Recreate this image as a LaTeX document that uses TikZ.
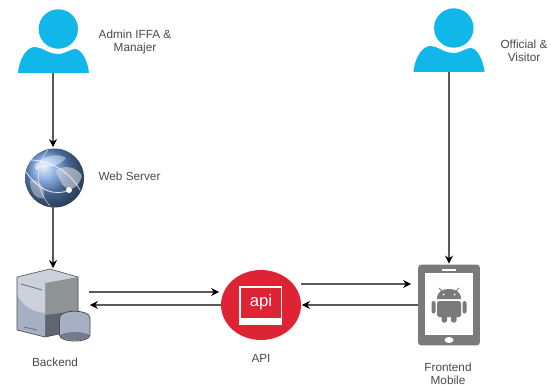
\documentclass[tikz,border=0pt]{standalone}
\usepackage{fontspec}
\setmainfont{Liberation Sans}
\usetikzlibrary{shapes.geometric,arrows.meta}
\def\px{0.569pt}
\definecolor{personblue}{HTML}{10B7E8}
\definecolor{apired}{HTML}{DD2334}
\definecolor{tabletgray}{HTML}{7A7A7A}
\definecolor{labelgray}{HTML}{4A4A4A}
\definecolor{globeblue}{HTML}{6A98DA}
\definecolor{cubelight}{HTML}{CDD1DC}
\definecolor{cubelow}{HTML}{A6B0C4}
\definecolor{cubeside}{HTML}{8E9396}
\definecolor{cubedark}{HTML}{5E6771}
\tikzset{
    hiddenbox/.style={inner sep=0pt, outer sep=0pt},
    conn/.style={draw=black!65, line width=0.7pt, -{Stealth[length=4.6pt,width=4.6pt,black]}, shorten >=0.5pt},
    lbl/.style={inner sep=0pt, align=center, text=labelgray, font=\fontsize{6.7}{7.6}\selectfont}
}
\newcommand{\personicon}{
    \fill[personblue] (58.3,29) circle (19.7);
    \fill[personblue] (18,73) .. controls (19,60) and (26,47) .. (35,47)
        .. controls (42,47) and (48,54) .. (58,54)
        .. controls (66,54) and (70,49) .. (75,49)
        .. controls (82,49) and (88,62) .. (89,73) -- cycle;
}
\begin{document}
\begin{tikzpicture}[x=0.02cm, y=-0.02cm]
    \useasboundingbox (0,0) rectangle (551,385);
    \fill[white] (0,0) rectangle (551,385);

    \node[hiddenbox, minimum width=71*\px, minimum height=64*\px] (admin) at (53,41) {};
    \node[hiddenbox, minimum width=71*\px, minimum height=64*\px] (official) at (449,40) {};
    \node[hiddenbox, circle, minimum width=58*\px] (webserver) at (53,177) {};
    \node[hiddenbox, minimum width=72*\px, minimum height=72*\px] (backend) at (53,305) {};
    \node[hiddenbox, ellipse, fill=apired, minimum width=80*\px, minimum height=70*\px] (api) at (261,305) {};
    \node[hiddenbox, rounded corners=2pt, fill=tabletgray, minimum width=62*\px, minimum height=81*\px] (frontend) at (449,305) {};

    \personicon
    \begin{scope}[shift={(395.5,-1)}]
        \personicon
    \end{scope}

    \begin{scope}
        \clip (54.5,178) circle (29.5);
        \shade[ball color=globeblue] (54.5,178) circle (29.5);
        \fill[white, opacity=0.4] (34,166) .. controls (42,156) and (58,152) .. (66,158) .. controls (60,166) and (46,170) .. (34,166) -- cycle;
        \fill[black!10, opacity=0.55] (56,170) .. controls (66,164) and (78,168) .. (82,176) .. controls (78,190) and (68,192) .. (62,184) .. controls (60,178) and (56,176) .. (56,170) -- cycle;
        \fill[black!15, opacity=0.45] (30,180) .. controls (38,178) and (46,186) .. (44,198) .. controls (36,200) and (30,192) .. (30,180) -- cycle;
        \draw[white, opacity=0.8, line width=0.5pt] (26,172) .. controls (40,192) and (56,196) .. (70,190);
        \draw[white, opacity=0.7, line width=0.5pt] (30,160) .. controls (50,160) and (70,172) .. (80,190);
        \draw[white, opacity=0.6, line width=0.4pt] (48,150) .. controls (34,166) and (36,190) .. (50,206);
        \fill[white] (69,190) circle (3);
        \fill[white, opacity=0.8] (37,168) circle (1.8);
    \end{scope}

    \fill[cubelight] (50,269) -- (78,277) -- (45,283) -- (17,277) -- cycle;
    \fill[cubeside] (45,283) -- (78,277) -- (78,330) -- (45,337) -- cycle;
    \fill[cubedark] (45,315) -- (78,311) -- (78,330) -- (45,337) -- cycle;
    \fill[cubelow] (17,277) -- (45,283) -- (45,337) -- (17,330) -- cycle;
    \fill[cubelight] (17,277) -- (45,283) -- (45,313) .. controls (32,312) and (22,305) .. (17,294) -- cycle;
    \draw[black!70, line width=0.35pt, line join=round] (50,269) -- (78,277) -- (78,330) -- (45,337) -- (17,330) -- (17,277) -- cycle;
    \draw[black!55, line width=0.5pt] (21,284) -- (42,290);
    \draw[black!55, line width=0.5pt] (24,327) -- (37,330);
    \fill[cubelow] (59.5,318) .. controls (59.5,309) and (90,309) .. (90,318) -- (90,335) .. controls (90,343) and (59.5,343) .. (59.5,335) -- cycle;
    \fill[black!30!cubelow] (60,335) .. controls (68,331) and (82,331) .. (89.5,335) .. controls (88,342) and (62,342) .. (60,335) -- cycle;
    \draw[black!70, line width=0.45pt] (59.5,318) .. controls (59.5,309) and (90,309) .. (90,318) -- (90,335) .. controls (90,343) and (59.5,343) .. (59.5,335) -- cycle;

    \draw[white, line width=0.8pt] (240,287) rectangle (281.5,324);
    \fill[white] (240,318) rectangle (281.5,324);
    \node[inner sep=0pt, text=white, font=\fontsize{9.5}{10}\selectfont] (apitext) at (261,302) {api};

    \fill[white] (425,273) rectangle (473,335);
    \fill[white] (442,268.5) rectangle (456,271);
    \fill[white] (449,340) ellipse (4.5 and 3);
    \fill[tabletgray] (437,299) .. controls (437,292) and (442,289) .. (449,289) .. controls (456,289) and (461,292) .. (461,299) -- cycle;
    \draw[tabletgray, line width=0.5pt] (442,291) -- (439,288) (456,291) -- (459,288);
    \fill[white] (443.5,294.5) circle (1) (454.5,294.5) circle (1);
    \fill[tabletgray, rounded corners=1pt] (437,301) rectangle (461,317);
    \fill[tabletgray, rounded corners=1.2pt] (441.5,312) rectangle (447,322.5);
    \fill[tabletgray, rounded corners=1.2pt] (451,312) rectangle (456.5,322.5);
    \fill[tabletgray, rounded corners=1.2pt] (431.5,301) rectangle (435.5,313.5);
    \fill[tabletgray, rounded corners=1.2pt] (462.5,301) rectangle (466.5,313.5);

    \coordinate (apiin) at (220,292);
    \coordinate (frontendin) at (412,284);
    \draw[conn] (admin.south) -- (webserver.north);
    \draw[conn] (webserver.south) -- (backend.north);
    \draw[conn] (official.south) -- (frontend.north);
    \draw[conn] (backend.east |- apiin) -- (apiin);
    \draw[conn] (api.west) -- (backend.east);
    \draw[conn] (api.east |- frontendin) -- (frontendin);
    \draw[conn] (frontend.west) -- (api.east);

    \node[lbl] (adminlabel) at (135,42) {Admin IFFA \&\\Manajer};
    \node[lbl] (webserverlabel) at (129.5,176) {Web Server};
    \node[lbl] (officiallabel) at (524,51) {Official \&\\Visitor};
    \node[lbl] (backendlabel) at (55,362) {Backend};
    \node[lbl] (apilabel) at (261,358) {API};
    \node[lbl] (frontendlabel) at (448,374) {Frontend\\Mobile};
\end{tikzpicture}
\end{document}
